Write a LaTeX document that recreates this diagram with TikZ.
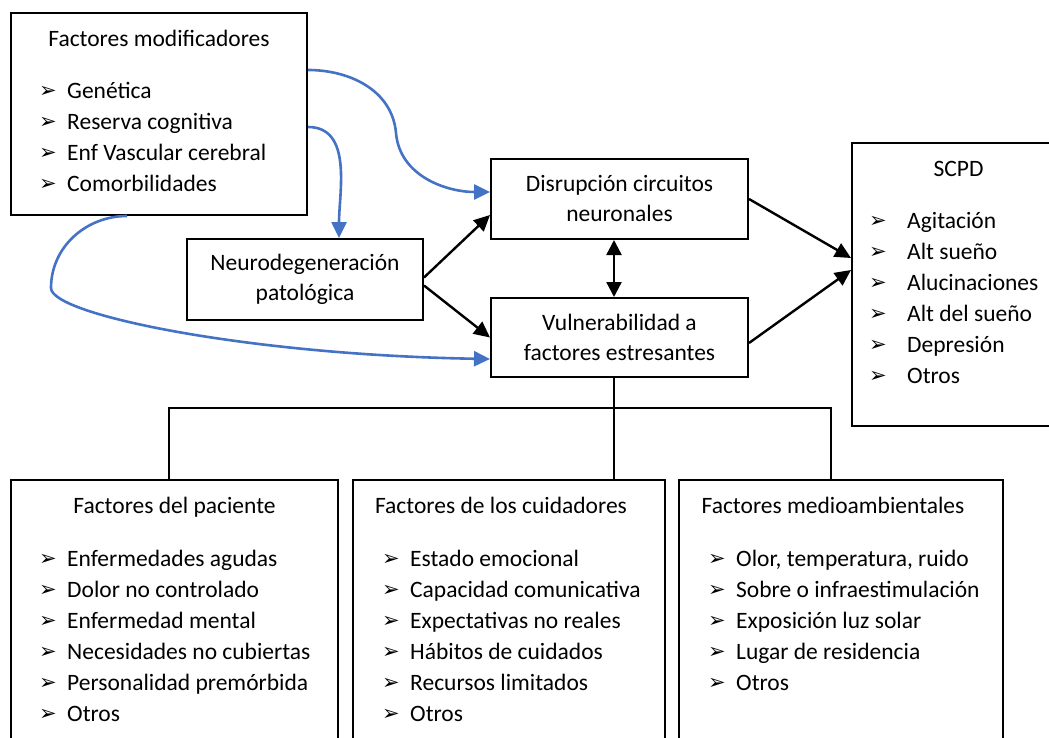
\documentclass[tikz,border=0pt]{standalone}
\usepackage{fontspec}
\setmainfont{Carlito}
\newfontfamily\dejavu{DejaVu Sans}
\usepackage{tikz}
\usetikzlibrary{arrows.meta,calc}
\definecolor{cblue}{RGB}{68,114,196}
\newcommand{\bul}{{\dejavu\fontsize{21}{21}\selectfont\raisebox{1.2pt}{➢}}}
\newcommand{\bl}[2]{\makebox[#1][l]{\bul}#2}
\tikzset{box/.style={draw,line width=2pt,inner sep=0pt},
  txt/.style={font=\fontsize{23.5}{30}\selectfont,align=center},
  hd/.style={anchor=base,inner sep=0pt,font=\fontsize{23.5}{30}\selectfont},
  itm/.style={anchor=base west,inner sep=0pt,font=\fontsize{23.5}{30}\selectfont},
  arr/.style={line width=2.4pt,-{Triangle[length=16pt,width=15pt]}},
  dbl/.style={arr,{Triangle[length=15pt,width=15pt]}-{Triangle[length=15pt,width=15pt]}},
  blu/.style={arr,line width=2.6pt,cblue},
  lnk/.style={line width=2.2pt}}

\begin{document}
\begin{tikzpicture}[x=1pt,y=-1pt]
\useasboundingbox (0,0) rectangle (1049,738);
\clip (0,0) rectangle (1049,738);
% boxes
\node[box,minimum width=296pt,minimum height=202pt] (fm) at (159,114) {};
\node[box,txt,minimum width=236pt,minimum height=81pt] (nd) at (305,279.5) {Neurodegeneración\\patológica};
\node[box,txt,minimum width=257pt,minimum height=80pt] (dc) at (619.5,199) {Disrupción circuitos\\neuronales};
\node[box,txt,minimum width=257pt,minimum height=79pt] (vf) at (619.5,337.5) {Vulnerabilidad a\\factores estresantes};
\node[box,minimum width=213pt,minimum height=283pt] (sc) at (958.5,284.5) {};
\node[box,minimum width=327pt,minimum height=290pt] (fp) at (174.5,625) {};
\node[box,minimum width=312pt,minimum height=290pt] (fc) at (509,625) {};
\node[box,minimum width=324pt,minimum height=290pt] (fa) at (841,625) {};
% titles
\node[hd] (fmt) at ([yshift=-34.5pt]fm.north) {Factores modificadores};
\node[hd] (sct) at ([yshift=-34.5pt]sc.north) {SCPD};
\node[hd] (fpt) at ([yshift=-34.5pt]fp.north) {Factores del paciente};
\node[hd] (fct) at ([xshift=-8pt,yshift=-34.5pt]fc.north) {Factores de los cuidadores};
\node[hd] (fat) at ([xshift=-8pt,yshift=-34.5pt]fa.north) {Factores medioambientales};
% lists
\foreach \t [count=\i from 0] in {Genética,Reserva cognitiva,Enf Vascular cerebral,Comorbilidades}
  \node[itm] (fm\i) at ([xshift=29pt,yshift=-86.5pt-31pt*\i]fm.north west) {\bl{28pt}{\t}};
\foreach \t [count=\i from 0] in {Agitación,Alt sueño,Alucinaciones,Alt del sueño,Depresión,Otros}
  \node[itm] (sc\i) at ([xshift=18pt,yshift=-86.5pt-31pt*\i]sc.north west) {\bl{38pt}{\t}};
\foreach \t [count=\i from 0] in {Enfermedades agudas,Dolor no controlado,Enfermedad mental,Necesidades no cubiertas,Personalidad premórbida,Otros}
  \node[itm] (fp\i) at ([xshift=29pt,yshift=-87.5pt-31pt*\i]fp.north west) {\bl{28pt}{\t}};
\foreach \t [count=\i from 0] in {Estado emocional,Capacidad comunicativa,Expectativas no reales,Hábitos de cuidados,Recursos limitados,Otros}
  \node[itm] (fc\i) at ([xshift=30pt,yshift=-87.5pt-31pt*\i]fc.north west) {\bl{28pt}{\t}};
\foreach \t [count=\i from 0] in {{Olor, temperatura, ruido},Sobre o infraestimulación,Exposición luz solar,Lugar de residencia,Otros}
  \node[itm] (fa\i) at ([xshift=30pt,yshift=-87.5pt-31pt*\i]fa.north west) {\bl{28pt}{\t}};
% blue links
\draw[blu] ([yshift=44pt]fm.east) to[out=0,in=95] ++(88,63) to[out=-85,in=180] ([yshift=7pt]dc.west);
\draw[blu] ([yshift=-13pt]fm.east) to[out=0,in=90] ([xshift=34pt]nd.north);
\draw[blu] ([xshift=-32pt]fm.south) to[out=180,in=90] (51,288) .. controls (51,315) and (250,355) .. ([yshift=-21.5pt]vf.west);
% black links
\draw[arr] ([yshift=2pt]nd.east) -- ([yshift=-16pt]dc.west);
\draw[arr] ([yshift=-6pt]nd.east) -- (vf.west);
\draw[dbl] ([xshift=-5.5pt]dc.south) -- ([xshift=-5.5pt]vf.north);
\draw[arr] (dc.east) -- ([yshift=26.5pt]sc.west);
\draw[arr] ([yshift=-5.5pt]vf.east) -- ([yshift=14.5pt]sc.west);
\draw[lnk] ([xshift=-5.5pt]vf.south) -- ([xshift=-5.5pt]vf.south |- fc.north);
\draw[lnk] ([xshift=-5.5pt]fp.north) -- ++(0,-71) -| ([xshift=-10pt]fa.north);
\end{tikzpicture}
\end{document}
